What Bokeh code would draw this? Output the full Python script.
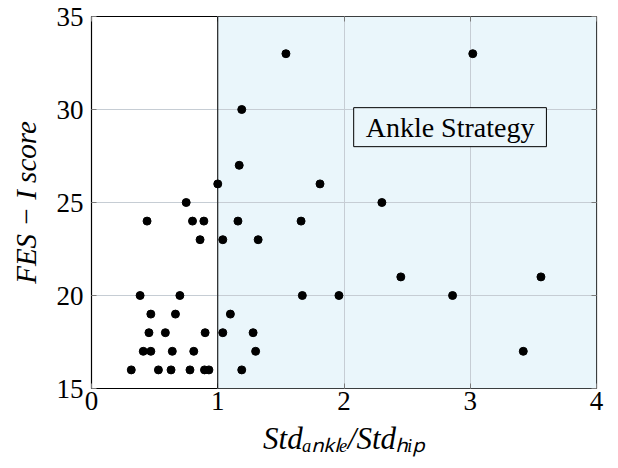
from bokeh.plotting import figure
from bokeh.models import (BoxAnnotation, Span, Label, LinearAxis, FixedTicker, Range1d,
                          CustomJSTickFormatter)
from bokeh.embed import file_html
from bokeh.resources import INLINE

# Std_ankle / Std_hip ratio and FES-I score
ratio = [1.54, 3.02, 1.19, 1.17, 1.00, 1.81, 0.75, 2.30,
         0.44, 0.80, 0.89, 1.16, 1.66, 0.86, 1.04, 1.32,
         2.45, 3.56, 0.385, 0.70, 1.67, 1.96, 2.86,
         0.47, 0.665, 1.10, 0.455, 0.585, 0.90, 1.04, 1.28,
         0.41, 0.47, 0.64, 0.81, 1.30, 3.42,
         0.315, 0.53, 0.63, 0.78, 0.895, 0.93, 1.19]
fes = [33, 33, 30, 27, 26, 26, 25, 25,
       24, 24, 24, 24, 24, 23, 23, 23,
       21, 21, 20, 20, 20, 20, 20,
       19, 19, 19, 18, 18, 18, 18, 18,
       17, 17, 17, 17, 17, 17,
       16, 16, 16, 16, 16, 16, 16]

x_ticks = [0, 1, 2, 3, 4]
y_ticks = [15, 20, 25, 30, 35]
threshold = 1
region_label = "Ankle Strategy"
label_pos = (2.84, 29.05)
y_title = "FES \u2212 I score"
x_title = "Std\u2090\u2099\u2096\u2097\u2091/Std\u2095\u1d62\u209a"

FONT = "Liberation Serif"
SHADE = "#eaf6fb"
TICK = "#7a7a7a"

p = figure(width=616, height=458, output_backend="svg", toolbar_location=None,
           x_range=Range1d(0, 4), y_range=Range1d(15, 35),
           min_border_left=91, min_border_top=16, min_border_right=20, min_border_bottom=40)
p.outline_line_color = "black"
p.outline_line_width = 1.2

shade = BoxAnnotation(left=threshold, fill_color=SHADE, fill_alpha=1.0, line_alpha=0, level="image")
p.add_layout(shade)

for ax in [p.xaxis[0], p.yaxis[0]]:
    ax.axis_line_color = None
    ax.major_tick_in = 5
    ax.major_tick_out = 0
    ax.minor_tick_line_color = None
    ax.major_tick_line_color = TICK
    ax.major_label_text_font = FONT
    ax.major_label_text_font_size = "27px"
    ax.major_label_text_color = "black"
    ax.axis_label_text_font = FONT
    ax.axis_label_text_font_style = "italic"
    ax.axis_label_text_color = "black"

p.xaxis.ticker = FixedTicker(ticks=x_ticks)
p.yaxis.ticker = FixedTicker(ticks=y_ticks)
p.xaxis.major_label_standoff = 3
p.yaxis.major_label_standoff = 8
p.yaxis.axis_label = y_title
p.yaxis.axis_label_text_font_size = "29px"
p.yaxis.axis_label_standoff = 12
p.xaxis.axis_label = x_title
p.xaxis.axis_label_text_font_size = "31px"
p.xaxis.axis_label_standoff = 8

blank = CustomJSTickFormatter(code="return ''")
for loc, ticks in [("above", x_ticks), ("right", y_ticks)]:
    ax2 = LinearAxis(ticker=FixedTicker(ticks=ticks), axis_line_color=None,
                     major_tick_in=5, major_tick_out=0, minor_tick_line_color=None,
                     major_tick_line_color=TICK, formatter=blank,
                     major_label_text_font_size="1px", major_label_standoff=0)
    p.add_layout(ax2, loc)

p.xgrid.ticker = FixedTicker(ticks=x_ticks)
p.ygrid.ticker = FixedTicker(ticks=y_ticks)
p.grid.grid_line_color = "#c6cdd4"
p.grid.grid_line_width = 1

p.add_layout(Span(location=threshold, dimension="height", line_color="black", line_width=1))

p.scatter(ratio, fes, size=8, color="black")

lab = Label(x=label_pos[0], y=label_pos[1], text=region_label, text_align="center",
            text_baseline="middle", text_font=FONT, text_font_size="28px",
            text_color="black", background_fill_color=SHADE, border_line_color="black",
            border_line_width=1, padding=dict(left=12, right=12, top=4, bottom=4))
p.add_layout(lab)

open("out.html", "w").write(file_html(p, INLINE))
